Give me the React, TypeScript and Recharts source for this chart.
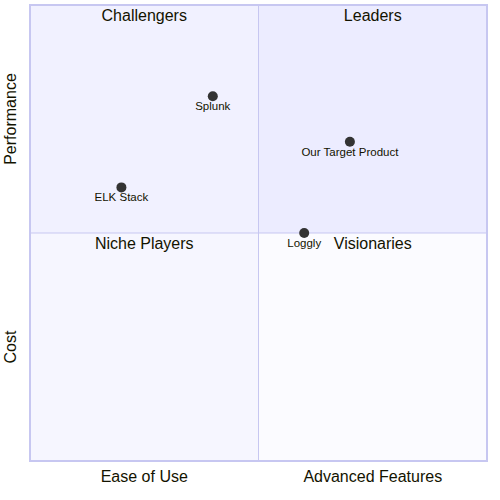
import React from 'react';
import { ScatterChart, Scatter, XAxis, YAxis, ReferenceArea, ReferenceLine } from 'recharts';

const pointNames = ['Splunk', 'Our Target Product', 'ELK Stack', 'Loggly'];
const pointX = [0.4, 0.7, 0.2, 0.6];
const pointY = [0.8, 0.7, 0.6, 0.5];

const quadrantTitles = ['Challengers', 'Leaders', 'Niche Players', 'Visionaries'];
const quadrantX1 = [0, 0.5, 0, 0.5];
const quadrantY1 = [0.5, 0.5, 0, 0];
const quadrantFills = ['#f1f1ff', '#ececff', '#f6f6ff', '#fbfbff'];

const xAxisLabels = ['Ease of Use', 'Advanced Features'];
const yAxisLabels = ['Cost', 'Performance'];
const axisTicks = [0.25, 0.75];

const FONT = '"Liberation Sans", Arial, sans-serif';
const TEXT = '#131300';
const BORDER = '#c7c7f1';

const data = pointNames.map((name, i) => ({ name, x: pointX[i], y: pointY[i] }));

const PointShape = (props: any) => {
  const { cx, cy, payload } = props;
  return (
    <g>
      <circle cx={cx} cy={cy} r={5} fill="#333333" />
      <text x={cx} y={cy + 14} textAnchor="middle" fontSize={11.5} fill={TEXT} fontFamily={FONT}>
        {payload.name}
      </text>
    </g>
  );
};

const YTick = (props: any) => {
  const { x, y, payload } = props;
  const label = payload.value < 0.5 ? yAxisLabels[0] : yAxisLabels[1];
  return (
    <text
      x={x}
      y={y}
      transform={`rotate(-90, ${x}, ${y})`}
      textAnchor="middle"
      fontSize={16}
      fill={TEXT}
      fontFamily={FONT}
    >
      {label}
    </text>
  );
};

export default function App() {
  return (
    <div style={{ position: 'absolute', left: 0, top: 0, width: 500, height: 500, background: '#fff' }}>
      <ScatterChart width={500} height={500} margin={{ top: 5, right: 13, bottom: 0, left: 0 }}>
        <XAxis
          type="number"
          dataKey="x"
          domain={[0, 1]}
          ticks={axisTicks}
          tickFormatter={(v: number) => (v < 0.5 ? xAxisLabels[0] : xAxisLabels[1])}
          axisLine={false}
          tickLine={false}
          tickSize={0}
          tickMargin={10}
          height={39}
          tick={{ fontSize: 16, fill: TEXT, fontFamily: FONT }}
        />
        <YAxis
          type="number"
          dataKey="y"
          domain={[0, 1]}
          ticks={axisTicks}
          axisLine={false}
          tickLine={false}
          width={30}
          tick={(p: any) => <YTick {...p} x={16} />}
        />
        {quadrantTitles.map((t, i) => (
          <ReferenceArea
            key={t}
            x1={quadrantX1[i]}
            x2={quadrantX1[i] + 0.5}
            y1={quadrantY1[i]}
            y2={quadrantY1[i] + 0.5}
            fill={quadrantFills[i]}
            fillOpacity={1}
            stroke="none"
            label={{ value: t, position: 'insideTop', fontSize: 16, fill: TEXT, fontFamily: FONT }}
          />
        ))}
        <ReferenceLine x={0.5} stroke={BORDER} strokeWidth={1} />
        <ReferenceLine y={0.5} stroke={BORDER} strokeWidth={1} />
        <ReferenceArea x1={0} x2={1} y1={0} y2={1} fill="none" stroke={BORDER} strokeWidth={2} />
        <Scatter data={data} isAnimationActive={false} shape={PointShape} />
      </ScatterChart>
    </div>
  );
}
